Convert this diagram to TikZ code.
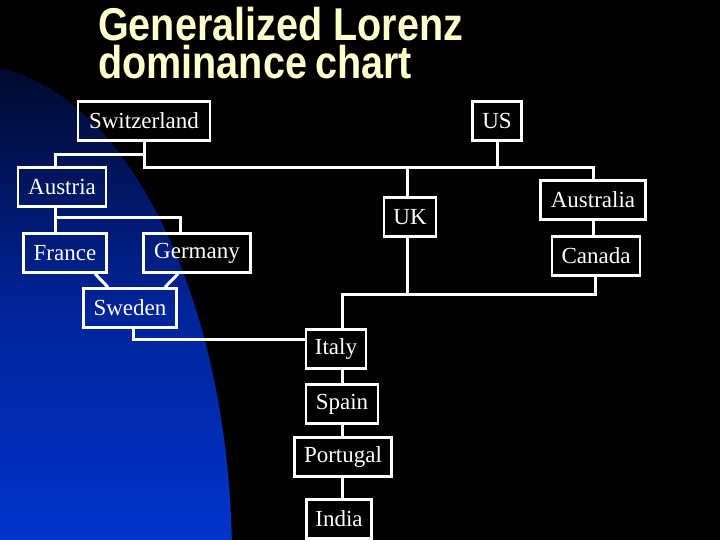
\documentclass[tikz,border=0pt]{standalone}
\usepackage{fontspec}
\setmainfont{Liberation Serif}
\newfontfamily\titlefont{Liberation Sans}
\definecolor{titlecol}{RGB}{255,255,204}
\definecolor{bluebot}{RGB}{0,52,205}
\definecolor{bluemid}{RGB}{0,35,150}
\definecolor{bluetop}{RGB}{0,8,40}
\begin{document}
\begin{tikzpicture}[x=1pt,y=-1pt,
  box/.style={draw=white,line width=2.6pt,text=white,inner sep=0pt,minimum height=39pt,font=\fontsize{23}{23}\selectfont},
  link/.style={draw=white,line width=3pt},
  ttl/.style={text=titlecol,anchor=base west,inner sep=0pt,font=\titlefont\bfseries\fontsize{46}{46}\selectfont}]
\useasboundingbox (0,0) rectangle (720,540);
\fill[black] (0,0) rectangle (720,540);
\begin{scope}
\clip (0,0) rectangle (720,540);
\clip (-30,560) ellipse [x radius=262, y radius=495];
\shade[top color=bluetop,bottom color=bluebot,middle color=bluemid] (0,60) rectangle (240,540);
\end{scope}
\node[ttl] (t1) at (98,41) {\scalebox{0.86}[1]{Generalized Lorenz}};
\node[ttl] (t2) at (98,79) {\scalebox{0.86}[1]{dominance\hspace{-3pt} chart}};
\node[box,minimum width=132pt] (sw) at (144,121) {Switzerland};
\node[box,minimum width=49pt] (us) at (497,121) {US};
\node[box,minimum width=88pt] (aus) at (62,187) {Austria};
\node[box,minimum width=52pt] (uk) at (410,217) {UK};
\node[box,minimum width=105pt] (aul) at (593,200) {Australia};
\node[box,minimum width=83pt] (fra) at (65,253) {France};
\node[box,minimum width=107pt] (ger) at (197,253) {Germany};
\node[box,minimum width=88pt] (can) at (596,256) {Canada};
\node[box,minimum width=93pt] (swe) at (130,308) {Sweden};
\node[box,minimum width=60pt] (ita) at (336,349) {Italy};
\node[box,minimum width=72pt] (spa) at (342,404) {Spain};
\node[box,minimum width=97pt] (por) at (343,457) {Portugal};
\node[box,minimum width=65pt] (ind) at (339,519) {India};
\coordinate (h0) at (144,155);
\coordinate (h1) at (144,168);
\coordinate (h2) at (593,168);
\coordinate (h3) at (342,294);
\draw[link] (sw.south) -- (h1) -- (h2) -- (aul.north);
\draw[link] (us.south) -- (us.south |- h1);
\draw[link] ([xshift=-3pt]uk.north) -- ([xshift=-3pt]uk.north |- h1);
\draw[link] (h0) -| ([xshift=-7pt]aus.north);
\draw[link] ([xshift=-7pt]aus.south) -- ++(0,10) -| ([xshift=-17pt]ger.north);
\draw[link] ([xshift=-7pt]aus.south) -- ([xshift=-10pt]fra.north);
\draw[link] (aul.south) -- (aul.south |- can.north);
\draw[link] ([xshift=-1pt]can.south) |- (h3) -- ([xshift=6pt]ita.north);
\draw[link] ([xshift=-3pt]uk.south) -- ([xshift=-3pt]uk.south |- h3);
\draw[link] ([xshift=30pt]fra.south) -- ([xshift=-22pt]swe.north);
\draw[link] ([xshift=-19pt]ger.south) -- ([xshift=35pt]swe.north);
\draw[link] ([xshift=3pt]swe.south) |- ([yshift=10pt]ita.west);
\draw[link] (spa.north) -- (spa.north |- ita.south);
\draw[link] (spa.south) -- (spa.south |- por.north);
\draw[link] ([xshift=-1pt]por.south) -- ([xshift=-1pt]por.south |- ind.north);
\end{tikzpicture}
\end{document}
